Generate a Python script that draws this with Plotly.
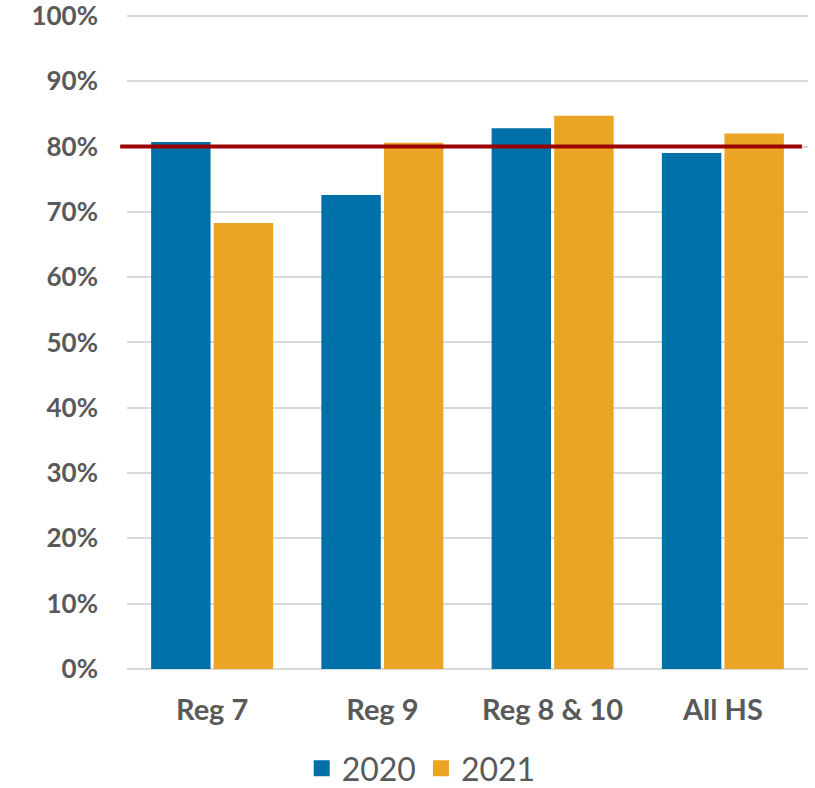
import plotly.graph_objects as go

categories = ["Reg 7", "Reg 9", "Reg 8 & 10", "All HS"]
series_names = ["2020", "2021"]
values_2020 = [0.807, 0.726, 0.828, 0.790]
values_2021 = [0.683, 0.806, 0.847, 0.820]
target = 0.80
y_ticks = [0, 0.1, 0.2, 0.3, 0.4, 0.5, 0.6, 0.7, 0.8, 0.9, 1.0]

colors = ["#0070A8", "#ECA426"]
text_color = "#595959"
font_family = "Lato"

fig = go.Figure()
for name, vals, col in zip(series_names, [values_2020, values_2021], colors):
    fig.add_trace(go.Bar(
        x=categories, y=vals, name=name, marker=dict(color=col, line=dict(width=0)),
        showlegend=False,
    ))
# legend entries with larger square symbols
for name, col in zip(series_names, colors):
    fig.add_trace(go.Scatter(
        x=[None], y=[None], mode="markers", name=name,
        marker=dict(symbol="square", size=16, color=col),
        showlegend=True,
    ))

fig.add_shape(type="line", xref="paper", yref="y",
              x0=-0.010, x1=0.991, y0=target, y1=target,
              line=dict(color="#9B0000", width=4), layer="above")

fig.update_layout(
    width=815, height=788,
    margin=dict(l=127, r=7, t=14, b=119, autoexpand=False),
    plot_bgcolor="white", paper_bgcolor="white",
    barmode="group", bargap=0.265, bargroupgap=0.05,
    font=dict(family=font_family, color=text_color),
    legend=dict(orientation="h", x=0.432, xanchor="center", y=-0.152, yanchor="middle",
                font=dict(size=32, family=font_family, color=text_color),
                itemsizing="trace", tracegroupgap=0, itemwidth=30),
    xaxis=dict(showgrid=False, showline=False, zeroline=False,
               tickfont=dict(size=29, family=font_family, color=text_color, weight="bold"),
               ticklabelstandoff=21),
    yaxis=dict(range=[0, 1.003], tickvals=y_ticks, tickformat=".0%",
               showgrid=True, gridcolor="#D9D9D9", gridwidth=1.5,
               zeroline=True, zerolinecolor="#D9D9D9", zerolinewidth=1.5,
               showline=False, ticklabeloverflow="allow",
               tickfont=dict(size=26, family=font_family, color=text_color, weight="bold"),
               ticklabelstandoff=28),
)

fig.write_html("out.html", config={"displayModeBar": False},
               post_script="document.body.style.margin='0';document.body.style.padding='0';")
